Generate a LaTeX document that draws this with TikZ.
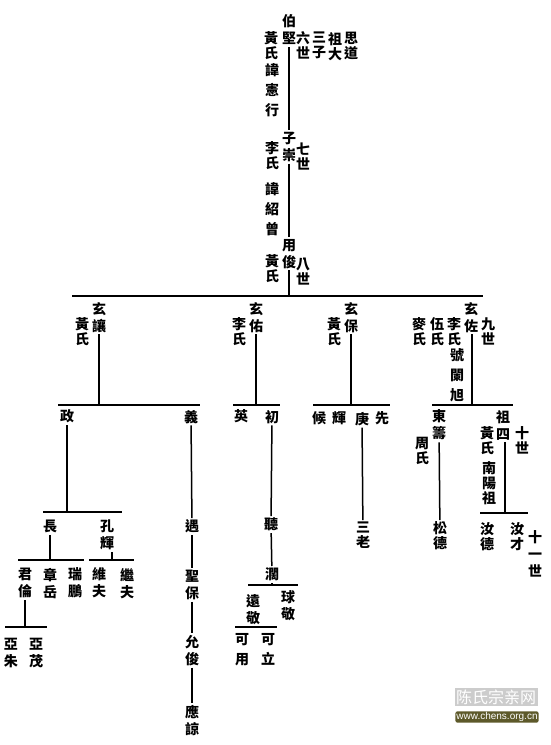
\documentclass[tikz,border=0pt]{standalone}
\usepackage{fontspec}
\newfontfamily\cjk{Noto Sans CJK TC}
\newfontfamily\cjksc{Noto Sans CJK SC}
\newfontfamily\lat{Liberation Sans}
\begin{document}
\begin{tikzpicture}[x=1pt,y=-1pt,
  nome/.style={inner sep=0pt, outer sep=2pt, anchor=north, align=center, font=\cjk\bfseries\fontsize{14}{17}\selectfont},
  curto/.style={nome, font=\cjk\bfseries\fontsize{14}{15}\selectfont},
  largo/.style={nome, font=\cjk\bfseries\fontsize{14}{20}\selectfont},
  linha/.style={line width=1.5pt},
  barra/.style={line width=2pt}]

\useasboundingbox (0,0) rectangle (550,745);

% Sexta a oitava geração
\node[nome] (bojian) at (289,13) {伯\\堅};
\node[curto] (huang6) at (271,30) {黃\\氏};
\node[largo] (hui6) at (272,61) {諱\\憲\\行};
\node[curto] (liushi) at (303,30) {六\\世};
\node[curto] (sanzi) at (319,30) {三\\子};
\node[curto] (zuda) at (335,30) {祖\\大};
\node[curto] (sidao) at (351,30) {思\\道};

\node[nome] (zichong) at (289,130) {子\\崇};
\node[curto] (li7) at (272,140) {李\\氏};
\node[curto] (qishi) at (303,141) {七\\世};
\node[largo] (hui7) at (272,180) {諱\\紹\\曾};

\node[nome] (yongjun) at (289,237) {用\\俊};
\node[curto] (huang8) at (272,253) {黃\\氏};
\node[curto] (bashi) at (303,256) {八\\世};

\draw[linha] (bojian) -- (zichong);
\draw[linha] (zichong) -- (yongjun);

% Barra dos filhos de 用俊
\coordinate (b9w) at (72,296);
\coordinate (b9e) at (483,296);
\draw[barra] (b9w) -- (b9e);
\draw[linha] (yongjun) -- (yongjun |- b9w);

% Nona geração
\node[nome] (xuanrang) at (99,300) {玄\\讓};
\node[curto] (huang9a) at (82,316) {黃\\氏};
\node[nome] (xuanyou) at (256,300) {玄\\佑};
\node[curto] (li9a) at (239,316) {李\\氏};
\node[nome] (xuanbao) at (351,300) {玄\\保};
\node[curto] (huang9b) at (334,316) {黃\\氏};
\node[nome] (xuanzuo) at (471,300) {玄\\佐};
\node[curto] (jiushi) at (488,316) {九\\世};
\node[curto] (li9b) at (454,316) {李\\氏};
\node[curto] (wu9) at (437,316) {伍\\氏};
\node[curto] (mai9) at (419,316) {麥\\氏};
\node[largo] (hao) at (457,347) {號\\闌\\旭};

% Barras da décima geração
\foreach \w/\e/\n in {58/200/a, 233/280/b, 313/390/c, 432/513/d} {
  \coordinate (b10\n w) at (\w,405);
  \coordinate (b10\n e) at (\e,405);
  \draw[barra] (b10\n w) -- (b10\n e);
}
\draw[linha] (xuanrang) -- (xuanrang |- b10aw);
\draw[linha] (xuanyou) -- (xuanyou |- b10bw);
\draw[linha] (xuanbao) -- (xuanbao |- b10cw);
\draw[linha] ([xshift=1pt]xuanzuo.south) -- ([xshift=1pt]xuanzuo.south |- b10dw);

% Décima geração
\node[nome] (zheng) at (67,408) {政};
\node[nome] (yi) at (191,408) {義};
\node[nome] (ying) at (241,408) {英};
\node[nome] (chu) at (272,408) {初};
\node[nome] (hou) at (319,410) {候};
\node[nome] (hui) at (339,410) {輝};
\node[nome] (geng) at (362,410) {庚};
\node[nome] (xian) at (382,410) {先};
\node[nome] (dongchou) at (439,408) {東\\籌};
\node[curto] (zhou) at (422,435) {周\\氏};
\node[nome] (zusi) at (503,408) {祖\\四};
\node[curto] (huang10) at (487,425) {黃\\氏};
\node[curto] (shishi) at (522,425) {十\\世};
\node[curto] (nanyang) at (489,460) {南\\陽\\祖};

% Décima primeira geração
\coordinate (b11aw) at (43,512);
\coordinate (b11ae) at (122,512);
\draw[barra] (b11aw) -- (b11ae);
\draw[linha] (zheng) -- (zheng |- b11aw);
\coordinate (b11dw) at (480,513);
\coordinate (b11de) at (528,513);
\draw[barra] (b11dw) -- (b11de);
\draw[linha] ([xshift=2pt]zusi.south) -- ([xshift=2pt]zusi.south |- b11dw);

\node[nome] (zhang) at (50,518) {長};
\node[nome] (konghui) at (107,518) {孔\\輝};
\node[nome] (yu) at (192,518) {遇};
\node[nome] (ting) at (271,516) {聽};
\node[curto] (sanlao) at (363,520) {三\\老};
\node[curto] (songde) at (440,520) {松\\德};
\node[curto] (rude) at (487,520) {汝\\德};
\node[curto] (rucai) at (517,520) {汝\\才};
\node[nome] (shiyishi) at (535,529) {十\\一\\世};

\draw[linha] (yi) -- (yu);
\draw[linha] (chu) -- (ting);
\draw[linha] (geng) -- (sanlao);
\draw[linha] (dongchou) -- (songde);

% Décima segunda geração
\coordinate (b12aw) at (18,560);
\coordinate (b12ae) at (84,560);
\coordinate (b12bw) at (89,560);
\coordinate (b12be) at (134,560);
\draw[barra] (b12aw) -- (b12ae);
\draw[barra] (b12bw) -- (b12be);
\draw[linha] (zhang) -- (zhang |- b12aw);
\draw[linha] ([xshift=5pt]konghui.south) -- ([xshift=5pt]konghui.south |- b12bw);

\node[nome] (junlun) at (25,566) {君\\倫};
\node[nome] (zhangyue) at (50,566) {章\\岳};
\node[nome] (ruipeng) at (75,566) {瑞\\鵬};
\node[nome] (weifu) at (99,566) {維\\夫};
\node[nome] (jifu) at (127,566) {繼\\夫};

\coordinate (b13w) at (5,627);
\coordinate (b13e) at (47,627);
\draw[barra] (b13w) -- (b13e);
\draw[linha] (junlun) -- (junlun |- b13w);
\node[nome] (yazhu) at (11,636) {亞\\朱};
\node[nome] (yamao) at (36,636) {亞\\茂};

\node[nome] (shengbao) at (192,568) {聖\\保};
\node[nome] (yunjun) at (192,633) {允\\俊};
\node[nome] (yingliang) at (192,703) {應\\諒};
\draw[linha] (yu) -- (shengbao);
\draw[linha] (shengbao) -- (yunjun);
\draw[linha] (yunjun) -- (yingliang);

\node[nome] (kuo) at (272,566) {濶};
\draw[linha] (ting) -- (kuo);
\coordinate (bkw) at (248,585);
\coordinate (bke) at (298,585);
\draw[barra] (bkw) -- (bke);
\draw[linha] (kuo) -- (kuo |- bkw);
\node[nome] (yuanjing) at (253,593) {遠\\敬};
\node[nome] (qiujing) at (288,589) {球\\敬};

\coordinate (byw) at (235,627);
\coordinate (bye) at (277,627);
\draw[barra] (byw) -- (bye);
\node[largo] (keyong) at (242,631) {可\\用};
\node[largo] (keli) at (268,631) {可\\立};

% Marca do site
\node[fill=gray!40, text=white, inner sep=1.5pt, font=\cjksc\fontsize{16}{16}\selectfont] (site) at (496,697) {陈氏宗亲网};
\node[fill=olive!55!black, text=white, inner sep=1pt, rounded corners=2pt, font=\lat\fontsize{10}{10}\selectfont] (url) at (497,717) {www.chens.org.cn};

\end{tikzpicture}
\end{document}
